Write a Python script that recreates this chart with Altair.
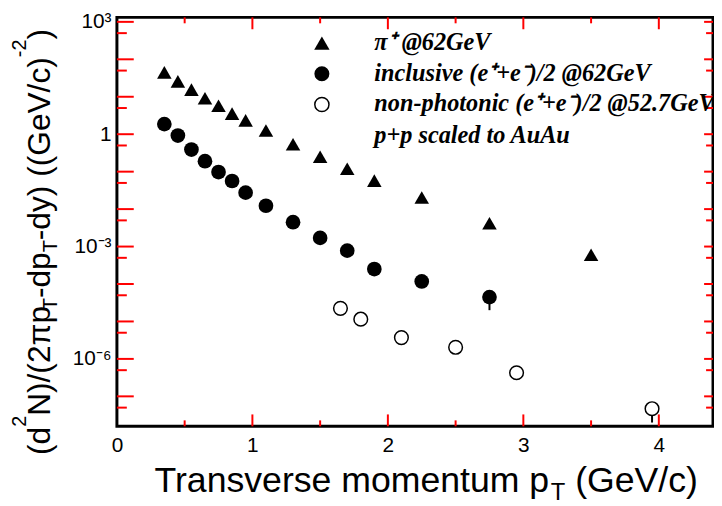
import altair as alt
import pandas as pd

# ---------------- data ----------------
pion_pt = [0.35, 0.45, 0.55, 0.65, 0.75, 0.85, 0.95, 1.1, 1.3, 1.5, 1.7, 1.9, 2.25, 2.75, 3.5]
pion_y = [44.7, 25.7, 15.5, 9.1, 5.75, 3.55, 2.34, 1.26, 0.537, 0.251, 0.120, 0.0575, 0.0204, 0.00417, 0.000603]

incl_pt = [0.35, 0.45, 0.55, 0.65, 0.75, 0.85, 0.95, 1.1, 1.3, 1.5, 1.7, 1.9, 2.25, 2.75]
incl_y = [1.86, 0.92, 0.389, 0.19, 0.0977, 0.0562, 0.0275, 0.0123, 0.00447, 0.0017, 0.000776, 0.000251, 0.000117, 4.47e-5]

nonph_pt = [1.65, 1.8, 2.1, 2.5, 2.95, 3.95]
nonph_y = [2.24e-5, 1.15e-5, 3.7e-6, 2.04e-6, 4.27e-7, 4.68e-8]

err_pt = [2.75, 3.95]
err_lo = [2.0e-5, 2.0e-8]
err_hi = [4.47e-5, 4.68e-8]

legend_labels = ["π⁺ @62GeV", "inclusive (e⁺+e⁻)/2 @62GeV",
                 "non-photonic (e⁺+e⁻)/2 @52.7GeV", "p+p scaled to AuAu"]

x_label_values = [0, 1, 2, 3, 4]
y_label_values = [1e-6, 1e-3, 1, 1e3]
y_major_ticks = [1e-7, 1e-6, 1e-5, 1e-4, 1e-3, 1e-2, 1e-1, 1, 10, 100, 1000]
y_minor_ticks = [5e-8, 5e-7, 5e-6, 5e-5, 5e-4, 5e-3, 5e-2, 0.5, 5, 50, 500]
x_major_ticks = [1, 2, 3, 4]
x_minor_ticks = [0.5, 1.5, 2.5, 3.5]

# ---------------- layout ----------------
W, H = 602, 413
X_DOMAIN = [0, 4.4]
Y_DOMAIN = [10 ** -7.8, 10 ** 3.12]
SANS = "Liberation Sans"
SERIF = "Liberation Serif"

xs = alt.Scale(domain=X_DOMAIN, nice=False, zero=False)
ys = alt.Scale(type="log", domain=Y_DOMAIN, nice=False)

ax_x = alt.Axis(values=x_label_values, format="d", tickSize=0, domain=False, grid=False,
                labelFontSize=21, labelFont=SANS, labelColor="black",
                labelPadding=8, title=None, labelFlush=False)
ax_y = alt.Axis(values=y_label_values, tickSize=0, domain=False, grid=False,
                labelFontSize=21, labelFont=SANS, labelColor="black",
                labelPadding=6, title=None, labelFlush=False,
                labelExpr="datum.value >= 999 ? '10³' : datum.value >= 0.999 ? '1' : "
                          "datum.value >= 0.000999 ? '10⁻³' : '10⁻⁶'")

def pts(xv, yv):
    return pd.DataFrame({"pt": xv, "y": yv})

pion = alt.Chart(pts(pion_pt, pion_y)).mark_point(
    shape="triangle-up", filled=True, color="black", size=215, opacity=1
).encode(x=alt.X("pt:Q", scale=xs, axis=ax_x), y=alt.Y("y:Q", scale=ys, axis=ax_y))

errs = alt.Chart(pd.DataFrame({"pt": err_pt, "y": err_lo, "y2": err_hi})).mark_rule(
    color="black", strokeWidth=2
).encode(x=alt.X("pt:Q", scale=xs), y=alt.Y("y:Q", scale=ys), y2="y2:Q")

incl = alt.Chart(pts(incl_pt, incl_y)).mark_point(
    shape="circle", filled=True, color="black", size=220, opacity=1
).encode(x=alt.X("pt:Q", scale=xs), y=alt.Y("y:Q", scale=ys))

nonph = alt.Chart(pts(nonph_pt, nonph_y)).mark_point(
    shape="circle", filled=True, fill="white", stroke="black", strokeWidth=1.5,
    size=190, opacity=1
).encode(x=alt.X("pt:Q", scale=xs), y=alt.Y("y:Q", scale=ys))

# ---------------- inward ticks ----------------
TICK = "red"
def yticks(vals, x0, x1):
    return alt.Chart(pd.DataFrame({"y": vals})).mark_rule(color=TICK, strokeWidth=2).encode(
        y=alt.Y("y:Q", scale=ys), x=alt.value(x0), x2=alt.value(x1))

def xticks(vals, y0, y1):
    return alt.Chart(pd.DataFrame({"pt": vals})).mark_rule(color=TICK, strokeWidth=2).encode(
        x=alt.X("pt:Q", scale=xs), y=alt.value(y0), y2=alt.value(y1))

ticks = [
    yticks(y_major_ticks, 0, 17), yticks(y_minor_ticks, 0, 10),
    yticks(y_major_ticks, W - 9, W), yticks(y_minor_ticks, W - 7, W),
    xticks(x_major_ticks, H, H - 12), xticks(x_minor_ticks, H, H - 6),
    xticks(x_major_ticks, 0, 12), xticks(x_minor_ticks, 0, 6),
]

# ---------------- text helpers ----------------
ARIAL = {" ": 278, "(": 333, ")": 333, "/": 278, "-": 333, "π": 556,
         "A": 667, "G": 778, "N": 722, "T": 611, "V": 667,
         "a": 556, "c": 500, "d": 556, "e": 556, "m": 833, "n": 556, "o": 556,
         "p": 556, "r": 333, "s": 500, "t": 278, "u": 556, "v": 500, "y": 500}

def tw(s, size):
    return sum(ARIAL.get(c, 556) for c in s) / 1000.0 * size

def txt(s, x, y, size, angle=0, font=SANS):
    return alt.Chart(pd.DataFrame({"t": [s]})).mark_text(
        align="left", baseline="alphabetic", fontSize=size, font=font,
        angle=angle, color="black"
    ).encode(text="t:N", x=alt.value(x), y=alt.value(y))

texts = []
y_segments = [("(d", "m"), ("2", "sup"), ("N)/(2πp", "m"), ("T", "sub"), ("-dp", "m"),
              ("T", "sub"), ("-dy)", "m"), (" ", "gap"), ("((GeV/c)", "m"), ("-2", "sup"), (")", "m")]
MAIN_Y, SMALL_Y = 32, 20
base_x, start_y = -68, 442
cum = 0.0
for s, kind in y_segments:
    size = SMALL_Y if kind in ("sup", "sub") else MAIN_Y
    if kind != "gap":
        dx = -24 if kind == "sup" else (7 if kind == "sub" else 0)
        texts.append(txt(s, base_x + dx, start_y - cum, size, angle=270))
    cum += tw(s, size)

x_segments = [("Transverse momentum p", "m"), ("T", "sub"), (" ", "gap"), ("(GeV/c)", "m")]
MAIN_X, SMALL_X = 36, 24
start_x, base_y = 38, 479
cum = 0.0
for s, kind in x_segments:
    size = SMALL_X if kind == "sub" else MAIN_X
    if kind != "gap":
        dy = 8 if kind == "sub" else 0
        texts.append(txt(s, start_x + cum, base_y + dy, size))
    cum += tw(s, size)

# ---------------- legend ----------------
leg_rows_y = [26, 57, 88, 120]
leg_sym_x = 207
leg_txt_x = 260
leg_marks = []
sym_styles = [
    dict(shape="triangle-up", filled=True, color="black", size=240),
    dict(shape="circle", filled=True, color="black", size=230),
    dict(shape="circle", filled=True, fill="white", stroke="black", strokeWidth=1.5, size=205),
]
for i, st in enumerate(sym_styles):
    leg_marks.append(
        alt.Chart(pd.DataFrame({"k": [legend_labels[i]]})).mark_point(opacity=1, **st).encode(
            x=alt.value(leg_sym_x), y=alt.value(leg_rows_y[i]))
    )
for i, lab in enumerate(legend_labels):
    leg_marks.append(
        alt.Chart(pd.DataFrame({"t": [lab]})).mark_text(
            align="left", baseline="middle", fontSize=24.5, font=SERIF,
            fontStyle="italic", fontWeight="bold", color="black"
        ).encode(text="t:N", x=alt.value(leg_txt_x), y=alt.value(leg_rows_y[i]))
    )

chart = alt.layer(
    pion, errs, incl, nonph, *ticks, *leg_marks, *texts
).properties(
    width=W, height=H, autosize="none",
    padding={"left": 110, "top": 7, "right": 1, "bottom": 76},
    background="white",
).configure_view(stroke="black", strokeWidth=3)

chart.save("out.html", embed_options={"renderer": "svg", "actions": False})
